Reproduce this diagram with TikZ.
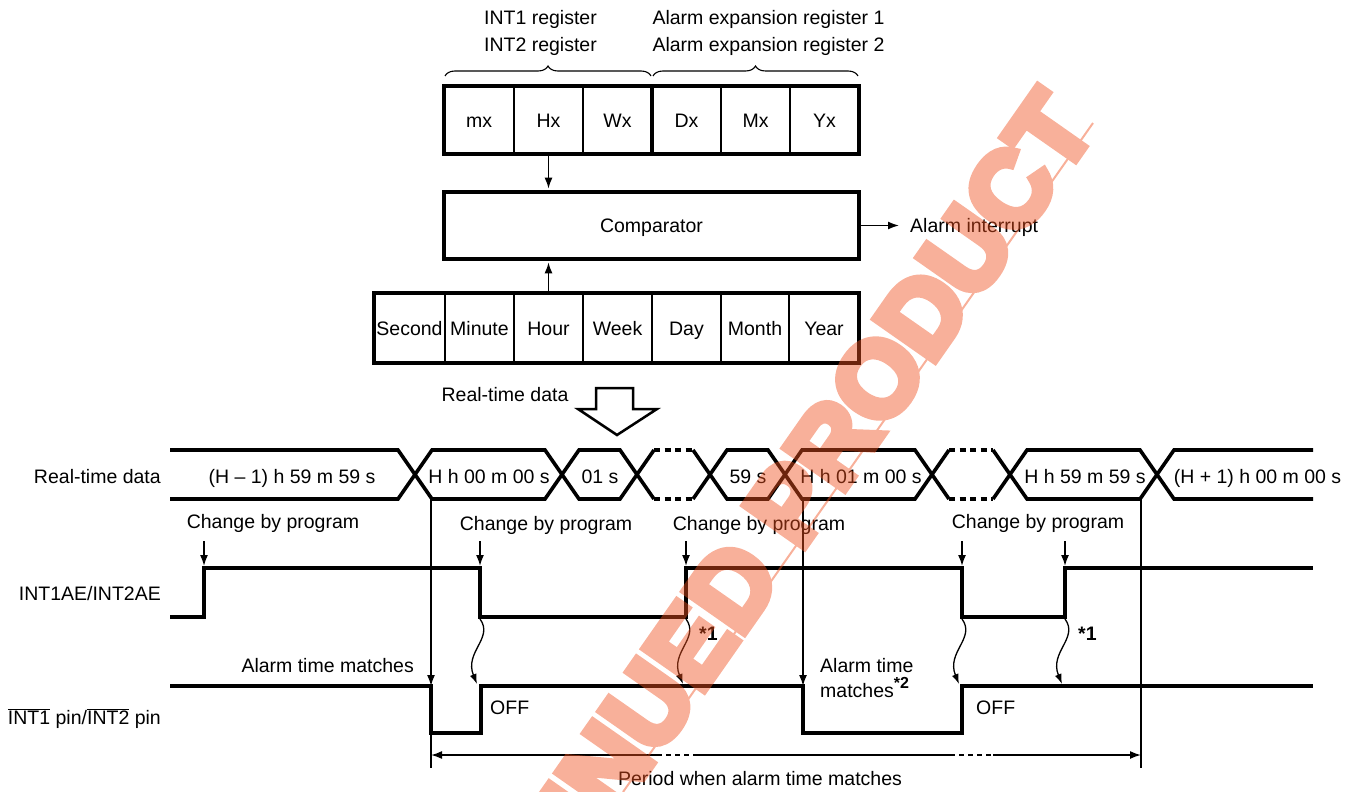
\documentclass[tikz,border=0pt]{standalone}
\usepackage{fontspec}
\setmainfont{Liberation Sans}
\newfontfamily\wmfont[FakeBold=8]{Liberation Sans Bold}
\usetikzlibrary{arrows.meta,decorations.pathreplacing}
\definecolor{wmred}{RGB}{240,80,30}
\newcommand{\ovl}[1]{\mbox{$\overline{\mbox{#1}}$}}
\begin{document}
\begin{tikzpicture}[x=1pt,y=-1pt,
  every node/.style={inner sep=0pt,font=\fontsize{19.5}{23}\selectfont},
  thk/.style={line width=3.6pt},
  thn/.style={line width=1.6pt},
  arr/.style={thn,-{Latex[length=11pt,width=8pt]}},
  cell/.style={draw,thn,text height=14pt,text depth=0pt},
  dots/.style={thk,dash pattern=on 6pt off 4.5pt},
  wave/.style={line width=1.3pt,-{Latex[length=10pt,width=7pt]}},
  brc/.style={decorate,decoration={brace,amplitude=10pt},line width=1.1pt}
]
\useasboundingbox (0,0) rectangle (1357,792);

% ---- top labels and braces
\node[anchor=base] (l1) at (540.5,25) {INT1 register};
\node[anchor=base] (l2) at (540.5,52) {INT2 register};
\node[anchor=base] (l3) at (768.5,25) {Alarm expansion register 1};
\node[anchor=base] (l4) at (768.5,52) {Alarm expansion register 2};
\draw[brc] (445,76) -- (651,76);
\draw[brc] (653,76) -- (858,76);

% ---- register row
\node[cell,minimum width=70pt,minimum height=68pt] (mx) at (479,120) {mx};
\node[cell,minimum width=69pt,minimum height=68pt] (hx) at (548.5,120) {Hx};
\node[cell,minimum width=69pt,minimum height=68pt] (wx) at (617.5,120) {Wx};
\node[cell,minimum width=69pt,minimum height=68pt] (dx) at (686.5,120) {Dx};
\node[cell,minimum width=69pt,minimum height=68pt] (mmx) at (755.5,120) {Mx};
\node[cell,minimum width=69pt,minimum height=68pt] (yx) at (824.5,120) {Yx};
\draw[thk] (444,86) rectangle (859,154);
\draw[thk] (652,86) -- (652,154);

% ---- comparator
\node[draw,thk,minimum width=415pt,minimum height=67pt,text height=14pt,text depth=0pt] (comp) at (651.5,225.5) {Comparator};
\draw[arr,shorten >=1.5pt] (hx.south) -- (hx.south |- comp.north);
\node[anchor=base west] (ai) at (910,232) {Alarm interrupt};
\draw[arr] (comp.east) -- ([xshift=-11pt]comp.east -| ai.west);

% ---- real-time data row
\node[cell,minimum width=71pt,minimum height=70pt] (sec) at (409.5,328) {Second};
\node[cell,minimum width=69pt,minimum height=70pt] (min) at (479.5,328) {Minute};
\node[cell,minimum width=69pt,minimum height=70pt] (hour) at (548.5,328) {Hour};
\node[cell,minimum width=69pt,minimum height=70pt] (week) at (617.5,328) {Week};
\node[cell,minimum width=69pt,minimum height=70pt] (day) at (686.5,328) {Day};
\node[cell,minimum width=68pt,minimum height=70pt] (month) at (755,328) {Month};
\node[cell,minimum width=70pt,minimum height=70pt] (year) at (824,328) {Year};
\draw[thk] (374,293) rectangle (859,363);
\draw[arr,shorten >=1.5pt] (hour.north) -- (hour.north |- comp.south);

% ---- block arrow
\node[anchor=base] (rtd) at (505,401) {Real-time data};
\draw[line width=2.5pt,line join=miter] (596,388) -- (633,388) -- (633,409) -- (657,409) -- (617,435) -- (578,409) -- (596,409) -- cycle;

% ---- timing: bus
\node[anchor=base east] (rowa) at (161,483) {Real-time data};
\draw[thk] (170,450)--(398,450)--(432,499)--(545,499)--(579,450)--(620,450)--(654,499);
\draw[thk] (170,499)--(398,499)--(432,450)--(545,450)--(579,499)--(620,499)--(654,450);
\draw[dots] (654,450)--(693,450);
\draw[dots] (654,499)--(693,499);
\draw[thk] (693,450)--(727,499)--(768,499)--(802,450)--(915,450)--(949,499);
\draw[thk] (693,499)--(727,450)--(768,450)--(802,499)--(915,499)--(949,450);
\draw[dots] (949,450)--(993,450);
\draw[dots] (949,499)--(993,499);
\draw[thk] (993,450)--(1027,499)--(1140,499)--(1174,450)--(1313,450);
\draw[thk] (993,499)--(1027,450)--(1140,450)--(1174,499)--(1313,499);
\node[anchor=base] (v0) at (292,483) {(H – 1) h 59 m 59 s};
\node[anchor=base] (v1) at (489,483) {H h 00 m 00 s};
\node[anchor=base] (v2) at (600,483) {01 s};
\node[anchor=base] (v3) at (748,483) {59 s};
\node[anchor=base] (v4) at (861,483) {H h 01 m 00 s};
\node[anchor=base] (v5) at (1085,483) {H h 59 m 59 s};
\node[anchor=base] (v6) at (1257.5,483) {(H + 1) h 00 m 00 s};

% ---- change by program
\node[anchor=base] (c1) at (273,528) {Change by program};
\node[anchor=base] (c2) at (546,530) {Change by program};
\node[anchor=base] (c3) at (759,530) {Change by program};
\node[anchor=base] (c4) at (1038,528) {Change by program};
\foreach \x in {204,480,686,962,1065}
  \draw[arr] (\x,541) -- (\x,566);

% ---- INT1AE
\node[anchor=base east] (rowb) at (161,600) {INT1AE/INT2AE};
\draw[thk] (170,617)--(204,617)--(204,568)--(480,568)--(480,617)--(686,617)--(686,568)--(962,568)--(962,617)--(1065,617)--(1065,568)--(1313,568);

% ---- INT pin
\node[anchor=base east] (rowc) at (161,724) {\ovl{INT1} pin/\ovl{INT2} pin};
\draw[thk] (170,686)--(431,686)--(431,733)--(481,733)--(481,686)--(803,686)--(803,733)--(962,733)--(962,686)--(1313,686);

% ---- vertical markers
\draw[arr] (431,499) -- (431,686);
\draw[thn] (431,686) -- (431,768);
\draw[arr] (803,499) -- (803,686);
\draw[thn] (1141,499) -- (1141,768);

% ---- wavy arrows
\foreach \x in {480,686,962,1065}
  \draw[wave] (\x,619) .. controls ({\x+14},638) and ({\x-16},652) .. ({\x-3},684);
\node[anchor=base west] (s1a) at (699,640) {\bfseries *1};
\node[anchor=base west] (s1b) at (1078,640) {\bfseries *1};

% ---- labels on INT row
\node[anchor=base east] (atm) at (414,672) {Alarm time matches};
\node[anchor=base west] (off1) at (490,714) {OFF};
\node[anchor=base west] (off2) at (976,714) {OFF};
\node[anchor=base west] (atm2a) at (820,672) {Alarm time};
\node[anchor=base west] (atm2b) at (820,697) {matches\raisebox{9pt}{\fontsize{16}{16}\selectfont\bfseries *2}};

% ---- period arrow
\draw[arr] (657,755) -- (431,755);
\draw[thn,dash pattern=on 5pt off 4pt] (657,755) -- (697,755);
\draw[thn] (697,755) -- (950,755);
\draw[thn,dash pattern=on 5pt off 4pt] (950,755) -- (993,755);
\draw[arr] (993,755) -- (1141,755);
\node[anchor=base] (per) at (760,785) {Period when alarm time matches};

% ---- watermark
\begin{scope}[transparency group,opacity=0.45]
\node[rotate=55,text=wmred,font=\fontsize{105}{105}\wmfont] (wmt) at (682,658) {DISCONTINUED PRODUCT};
\draw[wmred,line width=2pt] (1093,123) -- (623,792);
\end{scope}
\end{tikzpicture}
\end{document}
